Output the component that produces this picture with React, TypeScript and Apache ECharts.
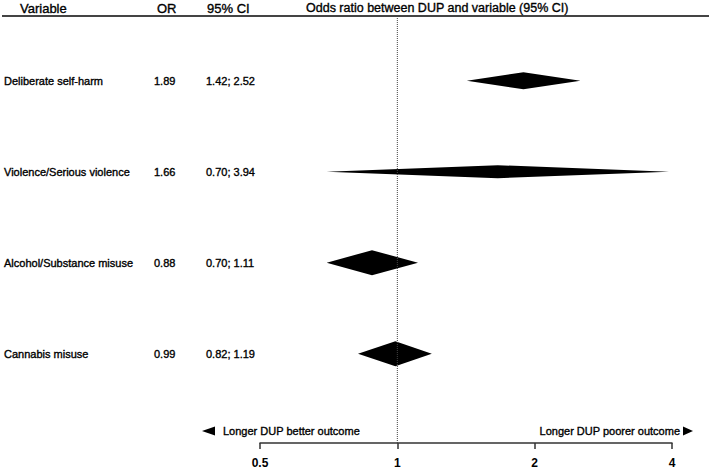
import React, { useEffect, useRef } from "react";
import * as echarts from "echarts";

const variables = [
  "Deliberate self-harm",
  "Violence/Serious violence",
  "Alcohol/Substance misuse",
  "Cannabis misuse",
];
const oddsRatios = [1.89, 1.66, 0.88, 0.99];
const ciLower = [1.42, 0.7, 0.7, 0.82];
const ciUpper = [2.52, 3.94, 1.11, 1.19];
const orLabels = ["1.89", "1.66", "0.88", "0.99"];
const ciLabels = ["1.42; 2.52", "0.70; 3.94", "0.70; 1.11", "0.82; 1.19"];
const xTicks = [0.5, 1, 2, 4];
const headers = ["Variable", "OR", "95% CI", "Odds ratio between DUP and variable (95% CI)"];
const directionLabels = ["Longer DUP better outcome", "Longer DUP poorer outcome"];

const FONT = '"Liberation Sans", Arial, Helvetica, sans-serif';
const diamondHalf = [8.5, 6.5, 12.5, 12.5];
const colX = [4, 154, 206];
const heavy = { stroke: "#000", lineWidth: 0.35 };

export default function App() {
  const ref = useRef<HTMLDivElement>(null);
  useEffect(() => {
    document.body.style.margin = "0";
    if (!ref.current) return;
    const chart = echarts.init(ref.current, undefined, { renderer: "svg" });
    const yMin = -0.711;
    const yMax = yMin + 427 / 91;
    const data = variables.map((_, i) => [i, oddsRatios[i], ciLower[i], ciUpper[i]]);
    chart.setOption({
      animation: false,
      backgroundColor: "#fff",
      grid: { left: 260, right: 37, top: 16, bottom: 26 },
      xAxis: {
        type: "log",
        logBase: 2,
        min: xTicks[0],
        max: xTicks[xTicks.length - 1],
        splitLine: { show: false },
        axisLine: { show: true, onZero: false, lineStyle: { color: "#333", width: 1.5 } },
        axisTick: { show: true, length: 6, lineStyle: { color: "#333", width: 1.5 } },
        minorTick: { show: false },
        axisLabel: {
          margin: 14,
          color: "#000",
          fontFamily: FONT,
          fontSize: 12,
          fontWeight: "bold",
          formatter: (v: number) => String(Math.round(v * 100) / 100),
        },
      },
      yAxis: {
        type: "value",
        inverse: true,
        min: yMin,
        max: yMax,
        show: false,
        splitLine: { show: false },
      },
      series: [
        {
          type: "line",
          data: [
            [1, yMin],
            [1, yMax],
          ],
          symbol: "none",
          silent: true,
          lineStyle: { color: "#444", width: 1, type: [1, 1] },
        },
        {
          type: "custom",
          clip: false,
          encode: { x: [1, 2, 3], y: 0 },
          data,
          renderItem: (params: any, api: any) => {
            const i = api.value(0);
            const c = api.coord([api.value(1), i]);
            const l = api.coord([api.value(2), i]);
            const r = api.coord([api.value(3), i]);
            const h = diamondHalf[i];
            const txt = (x: number, s: string) => ({
              type: "text",
              x,
              y: c[1],
              style: {
                text: s,
                fill: "#000",
                fontFamily: FONT,
                fontSize: 11,
                align: "left",
                verticalAlign: "middle",
                ...heavy,
              },
            });
            return {
              type: "group",
              children: [
                {
                  type: "polygon",
                  shape: {
                    points: [
                      [l[0], c[1]],
                      [c[0], c[1] - h],
                      [r[0], c[1]],
                      [c[0], c[1] + h],
                    ],
                  },
                  style: { fill: "#000" },
                },
                txt(colX[0], variables[i]),
                txt(colX[1], orLabels[i]),
                txt(colX[2], ciLabels[i]),
              ],
            };
          },
        },
      ],
      graphic: [
        {
          type: "line",
          shape: { x1: 2, y1: 16, x2: 709, y2: 16 },
          style: { stroke: "#444", lineWidth: 2 },
        },
        ...[20, 157, 207, 306].map((x, k) => ({
          type: "text",
          x,
          y: 8,
          style: {
            text: headers[k],
            fill: "#000",
            fontFamily: FONT,
            fontSize: k === 3 ? 12.5 : 13,
            align: "left",
            verticalAlign: "middle",
            ...heavy,
          },
        })),
        {
          type: "polygon",
          shape: { points: [[202, 431], [215, 426.5], [215, 435.5]] },
          style: { fill: "#000" },
        },
        {
          type: "polygon",
          shape: { points: [[683, 426.5], [683, 435.5], [693, 431]] },
          style: { fill: "#000" },
        },
        {
          type: "text",
          x: 223,
          y: 431,
          style: {
            text: directionLabels[0],
            fill: "#000",
            fontFamily: FONT,
            fontSize: 11,
            align: "left",
            verticalAlign: "middle",
            ...heavy,
          },
        },
        {
          type: "text",
          x: 680,
          y: 431,
          style: {
            text: directionLabels[1],
            fill: "#000",
            fontFamily: FONT,
            fontSize: 11,
            align: "right",
            verticalAlign: "middle",
            ...heavy,
          },
        },
      ],
    });
    return () => chart.dispose();
  }, []);
  return <div ref={ref} style={{ width: 709, height: 469 }} />;
}
